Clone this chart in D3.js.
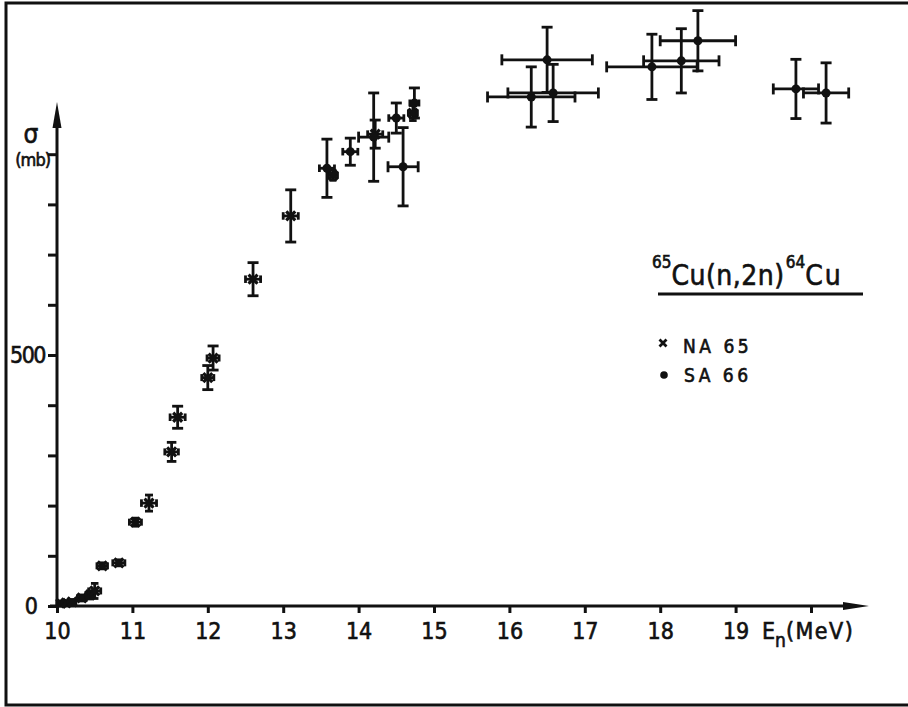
<!DOCTYPE html>
<html>
<head>
<meta charset="utf-8">
<script src="https://cdn.jsdelivr.net/npm/d3@7"></script>
<style>
  html, body { margin: 0; padding: 0; background: #fff; }
  svg { display: block; }
  text { font-family: "DejaVu Sans Condensed", "Liberation Sans Narrow", "Liberation Sans", sans-serif; fill: #111; stroke: #111; stroke-width: 0.6px; }
</style>
</head>
<body>
<div id="chart"></div>
<script>
// axis ticks
const xTicks = [10, 11, 12, 13, 14, 15, 16, 17, 18, 19, 20];
const xTickLabels = ['10', '11', '12', '13', '14', '15', '16', '17', '18', '19', ''];
const yTicks = [0, 100, 200, 300, 400, 500, 600, 700, 800, 900];
const yTickLabels = ['0', '', '', '', '', '500', '', '', '', '(mb)'];

// NA 65  (x markers)
const naEnergy = [10.05, 10.12, 10.2, 10.33, 10.44, 10.5, 10.6, 10.82, 11.04, 11.22, 11.52, 11.6, 12.0, 12.07, 12.6, 13.1, 13.66, 14.22, 14.72];
const naSigma  = [5, 6, 8, 16, 22, 30, 80, 86, 167, 205, 307, 376, 455, 494, 651, 777, 858, 940, 982];
const naErrE   = [0.05, 0.05, 0.05, 0.06, 0.06, 0.08, 0.07, 0.08, 0.08, 0.1, 0.09, 0.1, 0.08, 0.08, 0.1, 0.1, 0.06, 0.1, 0.06];
const naErrS   = [5, 5, 5, 6, 8, 15, 6, 6, 8, 16, 19, 22, 24, 24, 33, 52, 10, 28, 15];

// SA 66  (dots)
const saEnergy = [13.58, 13.89, 14.2, 14.5, 14.59, 14.74, 16.29, 16.5, 16.58, 17.89, 18.28, 18.5, 19.8, 20.2];
const saSigma  = [872, 905, 934, 972, 875, 1002, 1014, 1088, 1022, 1074, 1086, 1126, 1030, 1022];
const saErrE   = [0.1, 0.1, 0.2, 0.1, 0.2, 0.06, 0.58, 0.6, 0.6, 0.6, 0.5, 0.5, 0.3, 0.3];
const saErrS   = [58, 27, 88, 30, 78, 30, 60, 65, 57, 65, 64, 60, 59, 60];

const width = 908, height = 707;

const svg = d3.select('#chart').append('svg')
    .attr('width', width)
    .attr('height', height);

// frame (right edge runs off the picture)
svg.append('rect')
    .attr('x', 6).attr('y', 3)
    .attr('width', 960).attr('height', 702)
    .attr('fill', 'none')
    .attr('stroke', '#111')
    .attr('stroke-width', 3);

const x = d3.scaleLinear().domain([10, 20]).range([57, 811]);
const y = d3.scaleLinear().domain([0, 1000]).range([606, 104]);

// x axis
const xAxis = svg.append('g')
    .attr('transform', `translate(0,${y(0)})`)
    .call(d3.axisBottom(x).tickValues(xTicks).tickSize(7).tickPadding(10)
        .tickFormat((d, i) => xTickLabels[i]));
xAxis.select('.domain').remove();
xAxis.selectAll('line').attr('stroke', '#111').attr('stroke-width', 3);
xAxis.selectAll('text').style('font-size', '23px').attr('fill', '#111');

svg.append('line')
    .attr('x1', 50).attr('x2', 850)
    .attr('y1', y(0)).attr('y2', y(0))
    .attr('stroke', '#111').attr('stroke-width', 3);
svg.append('path')
    .attr('d', `M843,${y(0) - 4}L869,${y(0)}L843,${y(0) + 4}Z`)
    .attr('fill', '#111');

// y axis
const yAxis = svg.append('g')
    .attr('transform', `translate(${x(10)},0)`)
    .call(d3.axisLeft(y).tickValues(yTicks).tickSize(9).tickPadding(3)
        .tickFormat((d, i) => yTickLabels[i]));
yAxis.select('.domain').remove();
yAxis.selectAll('line').attr('stroke', '#111').attr('stroke-width', 3);
yAxis.selectAll('text').attr('fill', '#111');
yAxis.selectAll('.tick').filter(d => d === 0).select('text')
    .attr('x', -19).style('font-size', '23px');
yAxis.selectAll('.tick').filter(d => d === 500).select('text')
    .attr('x', -12).style('font-size', '23px').attr('letter-spacing', '-1.5px');
yAxis.selectAll('.tick').filter(d => d === 900).select('text')
    .attr('x', -7).attr('dy', '0.6em').style('font-size', '18px').attr('letter-spacing', '-1px');

svg.append('line')
    .attr('x1', x(10)).attr('x2', x(10))
    .attr('y1', y(0) + 2).attr('y2', 122)
    .attr('stroke', '#111').attr('stroke-width', 3);
svg.append('path')
    .attr('d', `M${x(10) - 4.5},128L${x(10)},102L${x(10) + 4.5},128Z`)
    .attr('fill', '#111');

svg.append('text')
    .attr('x', 31).attr('y', 143)
    .attr('text-anchor', 'middle')
    .style('font-size', '26px')
    .text('σ');

// axis title
const xTitle = svg.append('text')
    .attr('x', 762).attr('y', 639)
    .style('font-size', '23px');
xTitle.append('tspan').text('E');
xTitle.append('tspan').attr('dy', 8).style('font-size', '19px').text('n');
xTitle.append('tspan').attr('dy', -8).attr('letter-spacing', '1.5px').text('(MeV)');

// error bars + markers
function drawSeries(energy, sigma, errE, errS, kind) {
    const pts = energy.map((e, i) => ({ e, s: sigma[i], de: errE[i], ds: errS[i] }));
    const g = svg.append('g')
        .attr('stroke', '#111')
        .attr('stroke-width', 2.8)
        .attr('fill', 'none');
    const cap = d => Math.min(11, Math.max(7, (y(d.s - d.ds) - y(d.s + d.ds)) / 2));
    const capH = d => Math.min(11, Math.max(7, (x(d.e + d.de) - x(d.e - d.de)) / 2));

    const bars = g.selectAll('g.pt').data(pts).enter().append('g').attr('class', 'pt');
    bars.append('line')
        .attr('x1', d => x(d.e)).attr('x2', d => x(d.e))
        .attr('y1', d => y(d.s - d.ds)).attr('y2', d => y(d.s + d.ds));
    bars.append('line')
        .attr('x1', d => x(d.e) - cap(d) / 2).attr('x2', d => x(d.e) + cap(d) / 2)
        .attr('y1', d => y(d.s - d.ds)).attr('y2', d => y(d.s - d.ds));
    bars.append('line')
        .attr('x1', d => x(d.e) - cap(d) / 2).attr('x2', d => x(d.e) + cap(d) / 2)
        .attr('y1', d => y(d.s + d.ds)).attr('y2', d => y(d.s + d.ds));
    bars.append('line')
        .attr('x1', d => x(d.e - d.de)).attr('x2', d => x(d.e + d.de))
        .attr('y1', d => y(d.s)).attr('y2', d => y(d.s));
    bars.append('line')
        .attr('x1', d => x(d.e - d.de)).attr('x2', d => x(d.e - d.de))
        .attr('y1', d => y(d.s) - capH(d) / 2).attr('y2', d => y(d.s) + capH(d) / 2);
    bars.append('line')
        .attr('x1', d => x(d.e + d.de)).attr('x2', d => x(d.e + d.de))
        .attr('y1', d => y(d.s) - capH(d) / 2).attr('y2', d => y(d.s) + capH(d) / 2);

    if (kind === 'dot') {
        bars.append('circle')
            .attr('cx', d => x(d.e)).attr('cy', d => y(d.s))
            .attr('r', 4.5).attr('fill', '#111').attr('stroke', 'none');
    } else {
        bars.append('path')
            .attr('transform', d => `translate(${x(d.e)},${y(d.s)})`)
            .attr('d', 'M-4.5,-4.5L4.5,4.5M-4.5,4.5L4.5,-4.5')
            .attr('stroke-width', 3.2);
    }
}

drawSeries(naEnergy, naSigma, naErrE, naErrS, 'cross');
drawSeries(saEnergy, saSigma, saErrE, saErrS, 'dot');

// legend
const title = svg.append('text')
    .attr('x', 652).attr('y', 285)
    .style('font-size', '28px');
title.append('tspan').attr('dy', -17).style('font-size', '17px').text('65');
title.append('tspan').attr('dy', 17).attr('letter-spacing', '0.5px').text('Cu(n,2n)');
title.append('tspan').attr('dy', -17).attr('dx', 1).style('font-size', '17px').text('64');
title.append('tspan').attr('dy', 17).attr('letter-spacing', '2px').text('Cu');

svg.append('line')
    .attr('x1', 658).attr('x2', 863)
    .attr('y1', 294).attr('y2', 294)
    .attr('stroke', '#111').attr('stroke-width', 2.8);

svg.append('path')
    .attr('transform', 'translate(663,343)')
    .attr('d', 'M-3.5,-3.5L3.5,3.5M-3.5,3.5L3.5,-3.5')
    .attr('stroke', '#111').attr('stroke-width', 2.8);
svg.append('text')
    .attr('x', 683).attr('y', 353)
    .attr('letter-spacing', '3.5px')
    .style('font-size', '19px')
    .text('NA 65');

svg.append('circle')
    .attr('cx', 664).attr('cy', 375)
    .attr('r', 3.8).attr('fill', '#111');
svg.append('text')
    .attr('x', 684).attr('y', 382)
    .attr('letter-spacing', '3.5px')
    .style('font-size', '19px')
    .text('SA 66');
</script>
</body>
</html>
